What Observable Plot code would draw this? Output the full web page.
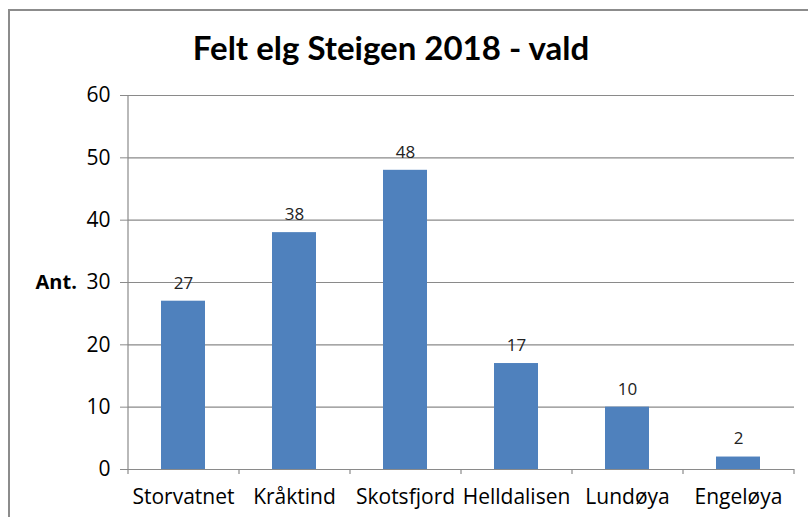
<!DOCTYPE html>
<html>
<head>
<meta charset="utf-8">
<script src="https://cdn.jsdelivr.net/npm/d3@7"></script>
<script src="https://cdn.jsdelivr.net/npm/@observablehq/plot@0.6"></script>
<style>
  html, body { margin: 0; padding: 0; background: #fff; overflow: hidden; }
  #frame { position: absolute; left: 8px; top: 9px; width: 830px; height: 540px;
           border-top: 2px solid #8c8c8c; border-left: 2px solid #8c8c8c; }
  #title { position: absolute; left: 0; width: 782px; top: 27px; text-align: center;
           font-family: Lato, "Open Sans", sans-serif; font-weight: bold; font-size: 33px; color: #000; }
  #chart { position: absolute; left: 0; top: 0; }
</style>
</head>
<body>
<div id="frame"></div>
<div id="title">Felt elg Steigen 2018 - vald</div>
<div id="chart"></div>
<script>
const categories = ["Storvatnet", "Kråktind", "Skotsfjord", "Helldalisen", "Lundøya", "Engeløya"];
const values = [27, 38, 48, 17, 10, 2];
const yTicks = [0, 10, 20, 30, 40, 50, 60];
const yLabel = "Ant.";

const data = categories.map((c, i) => ({category: c, value: values[i]}));

const W = 808, H = 517;
const mL = 128, mR = 14, mT = 95, mB = 48;
const step = (W - mL - mR) / categories.length;
const font = '"Open Sans", "Noto Sans", sans-serif';

const chart = Plot.plot({
  width: W,
  height: H,
  marginLeft: mL,
  marginRight: mR,
  marginTop: mT,
  marginBottom: mB,
  style: {fontFamily: font, fontSize: "20px", color: "#000", background: "transparent"},
  x: {domain: categories, paddingInner: 0.6, paddingOuter: 0.3, label: null},
  y: {domain: [0, 60], label: null},
  marks: [
    Plot.ruleY(yTicks, {stroke: "#8a8a8a", strokeWidth: 1.2}),
    Plot.barY(data, {x: "category", y: "value", fill: "#4f81bd"}),
    Plot.text(data, {x: "category", y: "value", text: d => String(d.value), dy: -18, fontSize: 17, fill: "#222"}),
    // left axis line
    Plot.ruleX([categories[0]], {dx: -step / 2, y1: -0.8, y2: 60, stroke: "#8a8a8a", strokeWidth: 1.2}),
    // category boundary ticks
    Plot.ruleX(categories.slice(1), {dx: -step / 2, y1: -0.8, y2: 0, stroke: "#8a8a8a", strokeWidth: 1.2}),
    Plot.ruleX([categories[categories.length - 1]], {dx: step / 2, y1: -0.8, y2: 0, stroke: "#8a8a8a", strokeWidth: 1.2}),
    Plot.axisY({ticks: yTicks, tickSize: 8, tickPadding: 10, stroke: "#8a8a8a", fontSize: 21, label: null, tickFormat: d => String(d)}),
    Plot.axisX({tickSize: 0, tickPadding: 20, fontSize: 21, label: null}),
    Plot.text([yLabel], {frameAnchor: "left", y: () => 30, text: d => d, dx: -93, textAnchor: "start", fontWeight: "bold", fontSize: 20})
  ]
});
document.getElementById("chart").appendChild(chart);
</script>
</body>
</html>
